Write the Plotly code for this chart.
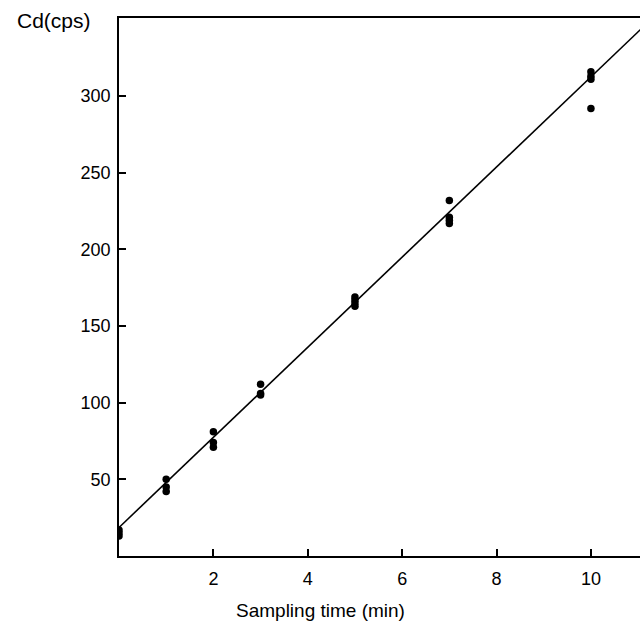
import plotly.graph_objects as go

# Replicate measurements of Cd signal at each sampling time
sampling_min = [0, 0, 0,
                1, 1, 1,
                2, 2, 2,
                3, 3, 3,
                5, 5, 5, 5,
                7, 7, 7, 7,
                10, 10, 10, 10]
cd_cps = [17, 15, 13,
          50, 45, 42,
          81, 74, 71,
          112, 106, 105,
          169, 167, 165, 163,
          232, 221, 219, 217,
          316, 313, 311, 292]

# Least-squares line through the measurements
fit_intercept = 18.6
fit_slope = 29.4
fit_x = [0, 11.5]
fit_y = [fit_intercept + fit_slope * x for x in fit_x]

x_ticks = [2, 4, 6, 8, 10]
y_ticks = [50, 100, 150, 200, 250, 300]

FONT = "Liberation Sans"

fig = go.Figure()
fig.add_trace(go.Scatter(
    x=fit_x, y=fit_y, mode="lines",
    line=dict(color="black", width=1.6),
    hoverinfo="skip", showlegend=False,
))
fig.add_trace(go.Scatter(
    x=sampling_min, y=cd_cps, mode="markers",
    marker=dict(color="black", size=7.5),
    showlegend=False,
))

fig.update_layout(
    width=640, height=635,
    margin=dict(l=119, r=0, t=18, b=79),
    plot_bgcolor="white", paper_bgcolor="white",
    font=dict(family=FONT, size=18, color="black"),
    xaxis=dict(
        range=[0, 11.04],
        tickvals=x_ticks, ticktext=[str(v) for v in x_ticks],
        ticks="inside", ticklen=7, tickwidth=1.5, tickcolor="black",
        showline=True, linecolor="black", linewidth=1.8, mirror=True,
        showgrid=False, zeroline=False,
        ticklabelstandoff=5,
    ),
    yaxis=dict(
        range=[0, 351],
        tickvals=y_ticks, ticktext=[str(v) for v in y_ticks],
        ticks="inside", ticklen=7, tickwidth=1.5, tickcolor="black",
        showline=True, linecolor="black", linewidth=1.8, mirror=False,
        showgrid=False, zeroline=False,
        ticklabelstandoff=3,
    ),
    annotations=[
        dict(
            text="Cd(cps)", xref="paper", yref="paper", x=0, y=1,
            xanchor="right", yanchor="middle", xshift=-26, yshift=-2,
            showarrow=False, font=dict(family=FONT, size=21),
        ),
        dict(
            text="Sampling time (min)", xref="paper", yref="paper",
            x=0.386, y=0, xanchor="center", yanchor="middle", yshift=-54,
            showarrow=False, font=dict(family=FONT, size=19),
        ),
    ],
)

fig.write_html("out.html")
